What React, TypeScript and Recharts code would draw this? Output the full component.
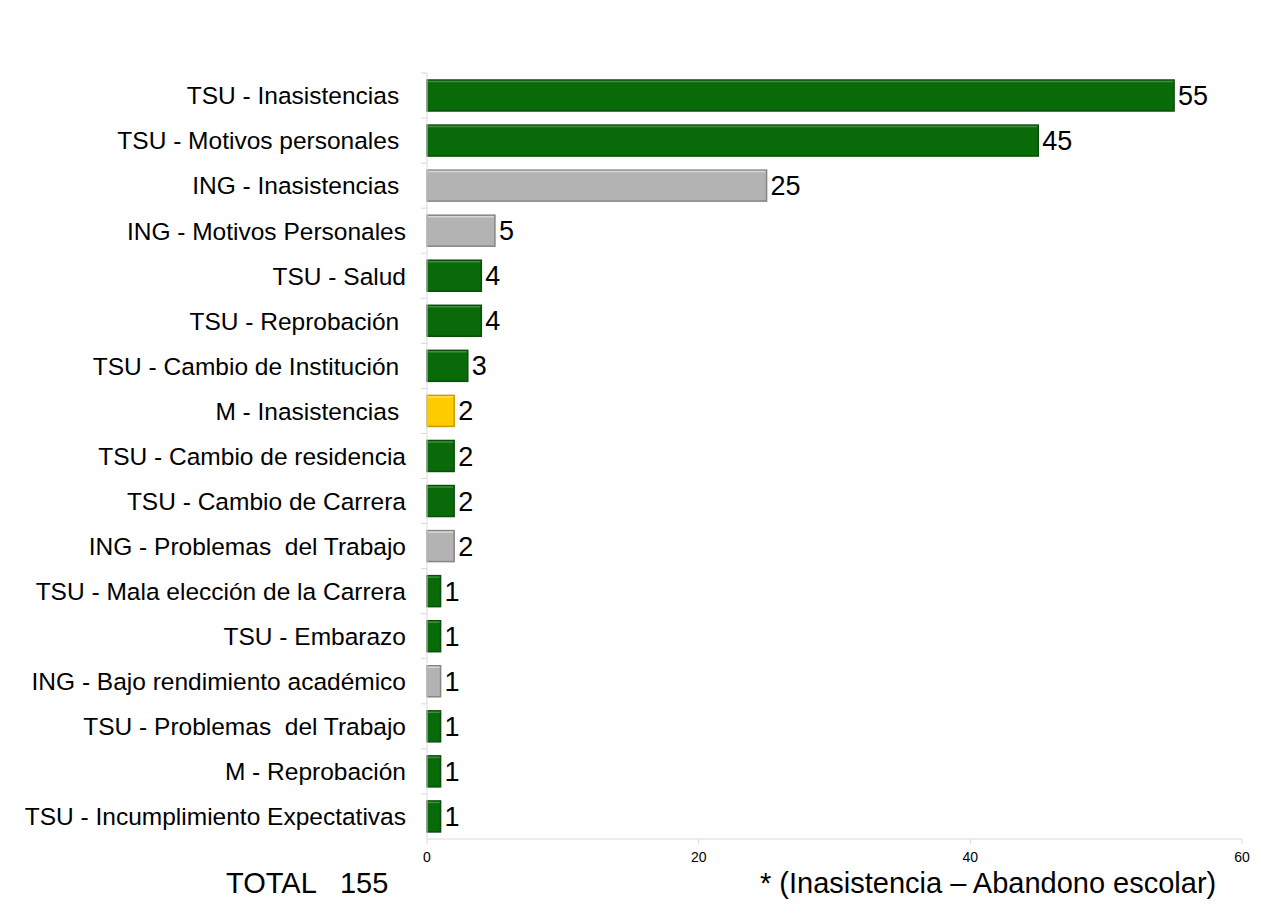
import { Bar, BarChart, Cell, LabelList, XAxis, YAxis } from "recharts";

const categories = [
  "TSU - Inasistencias ",
  "TSU - Motivos personales ",
  "ING - Inasistencias ",
  "ING - Motivos Personales",
  "TSU - Salud",
  "TSU - Reprobación ",
  "TSU - Cambio de Institución ",
  "M - Inasistencias ",
  "TSU - Cambio de residencia",
  "TSU - Cambio de Carrera",
  "ING - Problemas  del Trabajo",
  "TSU - Mala elección de la Carrera",
  "TSU - Embarazo",
  "ING - Bajo rendimiento académico",
  "TSU - Problemas  del Trabajo",
  "M - Reprobación",
  "TSU - Incumplimiento Expectativas"
];
const counts = [55, 45, 25, 5, 4, 4, 3, 2, 2, 2, 2, 1, 1, 1, 1, 1, 1];
// colour group per bar as it appears in the picture
const colourKeys = [
  "green", "green", "gray", "gray", "green", "green", "green", "yellow", "green",
  "green", "gray", "green", "green", "gray", "green", "green", "green"
];
const xTicks = [0, 20, 40, 60];
const totalLabel = "TOTAL   155";
const footnote = "* (Inasistencia – Abandono escolar)";

const palette: Record<string, { fill: string; stroke: string; light: string }> = {
  green: { fill: "#086a08", stroke: "#0b4d0b", light: "#3f8f3f" },
  gray: { fill: "#b3b3b3", stroke: "#858585", light: "#d6d6d6" },
  yellow: { fill: "#ffcc00", stroke: "#c99a00", light: "#ffe066" }
};

const data = categories.map((name, i) => ({ name, value: counts[i], colour: colourKeys[i] }));

const FONT = "'Liberation Sans', Arial, sans-serif";
const CHART_W = 1271;
const CHART_H = 879;
const MARGIN = { top: 73, right: 29, left: 0, bottom: 0 };
const X_AXIS_H = 40;
const bandSize = (CHART_H - MARGIN.top - MARGIN.bottom - X_AXIS_H) / categories.length;

function CategoryTick(props: any) {
  const { x, y, payload } = props;
  const top = y - bandSize / 2;
  return (
    <g>
      <line x1={x + 2} x2={x + 8} y1={top} y2={top} stroke="#d9d9d9" />
      <text
        x={x - 13}
        y={y}
        dy="0.36em"
        textAnchor="end"
        fontSize={24.5}
        fontFamily={FONT}
        fill="#000"
        style={{ whiteSpace: "pre" }}
      >
        {payload.value}
      </text>
    </g>
  );
}

function BevelBar(props: any) {
  const { x, y, width, height, payload } = props;
  const c = palette[payload.colour];
  if (!width || width <= 0) return null;
  return (
    <g>
      <rect x={x} y={y} width={width} height={height} fill={c.fill} stroke={c.stroke} strokeWidth={1.5} />
      <line x1={x + 1} x2={x + width - 1} y1={y + 1.5} y2={y + 1.5} stroke={c.light} strokeWidth={1.5} />
    </g>
  );
}

export default function App() {
  return (
    <div
      style={{
        position: "relative",
        width: 1271,
        height: 924,
        marginLeft: -8,
        marginTop: -8,
        background: "#fff",
        fontFamily: FONT
      }}
    >
      <BarChart width={CHART_W} height={CHART_H} data={data} layout="vertical" margin={MARGIN}>
        <XAxis
          type="number"
          domain={[0, 60]}
          ticks={xTicks}
          height={X_AXIS_H}
          axisLine={{ stroke: "#d9d9d9" }}
          tickLine={{ stroke: "#d9d9d9" }}
          tickSize={5}
          tick={{ fontSize: 14, fill: "#000", fontFamily: FONT }}
          tickMargin={8}
        />
        <YAxis
          type="category"
          dataKey="name"
          width={427}
          axisLine={{ stroke: "#d9d9d9" }}
          tickLine={false}
          tick={<CategoryTick />}
          interval={0}
        />
        <Bar dataKey="value" barSize={31} shape={<BevelBar />} isAnimationActive={false}>
          {data.map((d) => (
            <Cell key={d.name} fill={palette[d.colour].fill} />
          ))}
          <LabelList
            dataKey="value"
            position="right"
            offset={4}
            fill="#000"
            fontSize={27}
            fontFamily={FONT}
          />
        </Bar>
      </BarChart>
      <div style={{ position: "absolute", left: 226, top: 867, fontSize: 29, whiteSpace: "pre", color: "#000" }}>
        {totalLabel}
      </div>
      <div style={{ position: "absolute", left: 760, top: 867, fontSize: 29, whiteSpace: "pre", color: "#000" }}>
        {footnote}
      </div>
    </div>
  );
}
